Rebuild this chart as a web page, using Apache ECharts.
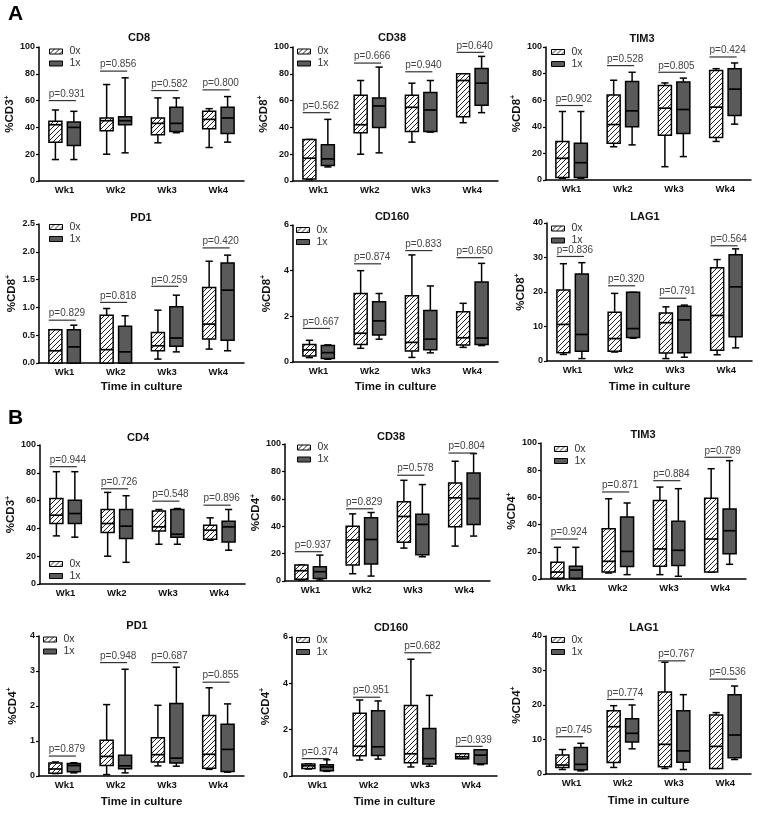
<!DOCTYPE html>
<html><head><meta charset="utf-8">
<script src="https://cdn.jsdelivr.net/npm/echarts@6/dist/echarts.min.js"></script>
<style>html,body{margin:0;padding:0;background:#fff}#c{width:762px;height:822px}</style>
</head><body><div id="c"></div>
<script>
// ---------- DATA ----------
const categories = ['Wk1', 'Wk2', 'Wk3', 'Wk4'];
const groupNames = ['0x', '1x'];
// each box: [min, Q1, median, Q3, max]

// Panel A - CD8
const A_CD8_0x = [[16,29,42,44.5,53],[20,37.5,45,47,72],[28.5,34.5,43,47,62],[25,39,46,52,54]];
const A_CD8_1x = [[16,26.5,40,44,52],[21,42,45,48,77],[36,37,43,55,62],[29,35.5,47,55,63]];
const A_CD8_p = ['p=0.931','p=0.856','p=0.582','p=0.800'];
const A_CD8_pY = [60,82,67.5,68];
const A_CD8_ticks = [0,20,40,60,80,100];

// Panel A - CD38
const A_CD38_0x = [[1,1.5,17,31,31],[20,36,42,64,75],[29,37,55,64,73],[43.5,48,75,80,80]];
const A_CD38_1x = [[10.5,11.5,16.5,27,46],[21,40,56,62,85],[36.5,37,53,66,75],[51,56.5,73,84,93]];
const A_CD38_p = ['p=0.562','p=0.666','p=0.940','p=0.640'];
const A_CD38_pY = [51,88,81.5,96];
const A_CD38_ticks = [0,20,40,60,80,100];

// Panel A - TIM3
const A_TIM3_0x = [[1.3,1.8,16.3,29,51.5],[25,27.6,41.7,64,75],[10,33.7,54,71,73],[29,32,54.8,82.4,83.7]];
const A_TIM3_1x = [[1.3,1.8,13,27.6,51.5],[26.4,40,52,74,81],[17.6,35,53,73.6,76.6],[42,48.5,68.3,83.7,88]];
const A_TIM3_p = ['p=0.902','p=0.528','p=0.805','p=0.424'];
const A_TIM3_pY = [56,86,81,92.5];
const A_TIM3_ticks = [0,20,40,60,80,100];

// Panel A - PD1
const A_PD1_0x = [[0,0,0.22,0.6,0.6],[0,0,0.24,0.86,0.98],[0.07,0.22,0.31,0.55,0.95],[0.25,0.43,0.70,1.36,1.83]];
const A_PD1_1x = [[0,0,0.29,0.6,0.68],[0,0,0.20,0.66,0.85],[0.20,0.30,0.45,1.01,1.22],[0.22,0.41,1.31,1.80,1.94]];
const A_PD1_p = ['p=0.829','p=0.818','p=0.259','p=0.420'];
const A_PD1_pY = [0.77,1.09,1.38,2.07];
const A_PD1_ticks = [0,0.5,1,1.5,2,2.5];

// Panel A - CD160
const A_CD160_0x = [[0.19,0.26,0.53,0.77,0.95],[0.6,0.77,1.26,3.0,4.0],[0.2,0.48,0.86,2.9,4.69],[0.64,0.74,1.06,2.2,2.57]];
const A_CD160_1x = [[0.12,0.15,0.41,0.72,0.75],[1.0,1.18,1.8,2.64,3.0],[0.4,0.54,1.0,2.26,3.33],[0.72,0.77,1.05,3.5,4.32]];
const A_CD160_p = ['p=0.667','p=0.874','p=0.833','p=0.650'];
const A_CD160_pY = [1.47,4.3,4.88,4.57];
const A_CD160_ticks = [0,2,4,6];

// Panel A - LAG1
const A_LAG1_0x = [[1.9,2.4,10.6,20.6,28.2],[2.6,2.8,6.5,14.1,19.6],[0.7,2.3,11.1,13.9,15.7],[1.8,3.1,13.2,27,29.4]];
const A_LAG1_1x = [[0.7,2.8,7.7,25.2,28.5],[6.6,6.8,9.4,19.9,19.9],[1.1,2.4,11.9,15.9,16.2],[3.8,7.0,21.5,30.8,32.5]];
const A_LAG1_p = ['p=0.836','p=0.320','p=0.791','p=0.564'];
const A_LAG1_pY = [30.3,21.8,18.2,33.4];
const A_LAG1_ticks = [0,10,20,30,40];

// Panel B - CD4
const B_CD4_0x = [[34.6,43.5,49.5,61.5,80.8],[20,37,43.5,53.6,65.9],[28.6,38.2,41.1,52.6,53.6],[31.5,32.2,38.7,42.3,47.6]];
const B_CD4_1x = [[33.7,43.5,50.7,60.3,80.8],[15.6,32.7,41.6,53.6,63.5],[28.6,33.7,35.8,53.6,54.3],[24.3,30.3,41.1,45.2,53.6]];
const B_CD4_p = ['p=0.944','p=0.726','p=0.548','p=0.896'];
const B_CD4_pY = [84.4,68.5,59.6,56.7];
const B_CD4_ticks = [0,20,40,60,80,100];

// Panel B - CD38
const B_CD38_0x = [[0.7,1.2,7.5,11.7,11.7],[5.3,11.7,29.9,40,49],[24,28.2,47.1,57.8,73.5],[25.5,39.6,60.7,71.6,87.4]];
const B_CD38_1x = [[0.7,1.9,6.8,10.4,18.9],[3.6,12.4,30.3,46.1,50],[17.7,19.2,41.3,48.8,70.4],[32.8,41.3,60.2,78.9,93]];
const B_CD38_p = ['p=0.937','p=0.829','p=0.578','p=0.804'];
const B_CD38_pY = [21.4,52.7,77.2,93.4];
const B_CD38_ticks = [0,20,40,60,80,100];

// Panel B - TIM3
const B_TIM3_0x = [[0.2,0.5,5.1,12.3,23.3],[4.4,5.1,13,37,59],[3.2,9.3,22.1,57.8,67.6],[5.1,5.1,29.4,59.3,81.1]];
const B_TIM3_1x = [[0.2,0.5,6.6,9.3,23.3],[3.2,9.1,20.3,45.6,55.9],[2,10,21.1,42.4,66.4],[10.8,18.6,35.5,51.5,87]];
const B_TIM3_p = ['p=0.924','p=0.871','p=0.884','p=0.789'];
const B_TIM3_pY = [29.4,64,72.3,89.5];
const B_TIM3_ticks = [0,20,40,60,80,100];

// Panel B - PD1
const B_PD1_0x = [[0.07,0.08,0.20,0.37,0.40],[0.04,0.30,0.56,1.02,2.04],[0.29,0.40,0.61,1.09,2.02],[0.19,0.22,0.62,1.73,2.52]];
const B_PD1_1x = [[0.09,0.12,0.30,0.36,0.38],[0.09,0.21,0.29,0.59,3.05],[0.28,0.37,0.51,2.07,3.11],[0.11,0.13,0.76,1.48,2.06]];
const B_PD1_p = ['p=0.879','p=0.948','p=0.687','p=0.855'];
const B_PD1_pY = [0.57,3.24,3.24,2.68];
const B_PD1_ticks = [0,1,2,3,4];

// Panel B - CD160
const B_CD160_0x = [[0.3,0.32,0.44,0.52,0.53],[0.69,0.87,1.28,2.71,3.28],[0.39,0.57,0.96,3.04,5.04],[0.75,0.75,0.83,0.96,0.96]];
const B_CD160_1x = [[0.2,0.23,0.39,0.49,0.70],[0.73,0.89,1.26,2.82,3.24],[0.42,0.52,0.75,2.05,3.48],[0.49,0.53,0.9,1.13,1.13]];
const B_CD160_p = ['p=0.374','p=0.951','p=0.682','p=0.939'];
const B_CD160_pY = [0.75,3.4,5.32,1.28];
const B_CD160_ticks = [0,2,4,6];

// Panel B - LAG1
const B_LAG1_0x = [[1.3,1.9,2.6,5.5,7.1],[1.9,3.3,13.7,18.3,19.8],[1.6,2.1,8.6,23.8,32.4],[1.6,1.6,8,17.1,17.8]];
const B_LAG1_1x = [[0.9,1.2,2.8,7.7,8.9],[7.3,9.3,11.8,16,20],[1.3,3.4,6.7,18.3,23],[4.2,4.7,11.3,23,25.5]];
const B_LAG1_p = ['p=0.745','p=0.774','p=0.767','p=0.536'];
const B_LAG1_pY = [10.8,21.6,32.8,27.5];
const B_LAG1_ticks = [0,10,20,30,40];

// ---------- LAYOUT ----------
const panels = [
  {title:'CD8', yName:'CD3', d0:A_CD8_0x, d1:A_CD8_1x, p:A_CD8_p, pY:A_CD8_pY, ticks:A_CD8_ticks,
   left:39, top:47, h:134, tx:139, ty:38, gap:17.5, lg:[49,46], xName:false, dec:0},
  {title:'CD38', yName:'CD8', d0:A_CD38_0x, d1:A_CD38_1x, p:A_CD38_p, pY:A_CD38_pY, ticks:A_CD38_ticks,
   left:293, top:47, h:134, tx:392, ty:37.5, gap:22, lg:[297,46], xName:false, dec:0},
  {title:'TIM3', yName:'CD8', d0:A_TIM3_0x, d1:A_TIM3_1x, p:A_TIM3_p, pY:A_TIM3_pY, ticks:A_TIM3_ticks,
   left:546, top:47, h:133, tx:642, ty:39, gap:22, lg:[551,46.5], xName:false, dec:0},
  {title:'PD1', yName:'CD8', d0:A_PD1_0x, d1:A_PD1_1x, p:A_PD1_p, pY:A_PD1_pY, ticks:A_PD1_ticks,
   left:39, top:224, h:139, tx:141, ty:218, gap:20, lg:[49,221.5], xName:true, nameGap:18, dec:1},
  {title:'CD160', yName:'CD8', d0:A_CD160_0x, d1:A_CD160_1x, p:A_CD160_p, pY:A_CD160_pY, ticks:A_CD160_ticks,
   left:293, top:225, h:137, tx:392, ty:217, gap:19.5, lg:[296,224.5], xName:true, nameGap:19, dec:0},
  {title:'LAG1', yName:'CD8', d0:A_LAG1_0x, d1:A_LAG1_1x, p:A_LAG1_p, pY:A_LAG1_pY, ticks:A_LAG1_ticks,
   left:547, top:223, h:138, tx:645, ty:217, gap:19.5, lg:[551,223], xName:true, nameGap:20, dec:0},
  {title:'CD4', yName:'CD3', d0:B_CD4_0x, d1:B_CD4_1x, p:B_CD4_p, pY:B_CD4_pY, ticks:B_CD4_ticks,
   left:40, top:445, h:139, tx:138, ty:438, gap:20.5, lg:[49,558.5], xName:false, dec:0},
  {title:'CD38', yName:'CD4', d0:B_CD38_0x, d1:B_CD38_1x, p:B_CD38_p, pY:B_CD38_pY, ticks:B_CD38_ticks,
   left:285, top:444, h:137, tx:391, ty:437, gap:19.5, lg:[297,442], xName:false, dec:0},
  {title:'TIM3', yName:'CD4', d0:B_TIM3_0x, d1:B_TIM3_1x, p:B_TIM3_p, pY:B_TIM3_pY, ticks:B_TIM3_ticks,
   left:541, top:443, h:136, tx:643, ty:435, gap:17.5, lg:[554,443.5], xName:false, dec:0},
  {title:'PD1', yName:'CD4', d0:B_PD1_0x, d1:B_PD1_1x, p:B_PD1_p, pY:B_PD1_pY, ticks:B_PD1_ticks,
   left:39, top:636, h:140, tx:137, ty:626, gap:19.5, lg:[43,634], xName:true, nameGap:19.5, dec:0},
  {title:'CD160', yName:'CD4', d0:B_CD160_0x, d1:B_CD160_1x, p:B_CD160_p, pY:B_CD160_pY, ticks:B_CD160_ticks,
   left:292, top:637, h:139, tx:391, ty:628, gap:19, lg:[296,634.5], xName:true, nameGap:19.5, dec:0},
  {title:'LAG1', yName:'CD4', d0:B_LAG1_0x, d1:B_LAG1_1x, p:B_LAG1_p, pY:B_LAG1_pY, ticks:B_LAG1_ticks,
   left:546, top:636, h:138, tx:644, ty:628, gap:22.5, lg:[551,634.5], xName:true, nameGap:21, dec:0}
];
const GRID_W = 205;
const FONT = 'Liberation Sans, Arial, sans-serif';

// hatch pattern
function makeHatch() {
  const s = 5;
  const cv = document.createElement('canvas');
  cv.width = s; cv.height = s;
  const ctx = cv.getContext('2d');
  ctx.fillStyle = '#fff'; ctx.fillRect(0, 0, s, s);
  ctx.strokeStyle = '#222'; ctx.lineWidth = 1;
  ctx.beginPath();
  ctx.moveTo(0, s); ctx.lineTo(s, 0);
  ctx.moveTo(-1, 1); ctx.lineTo(1, -1);
  ctx.moveTo(s - 1, s + 1); ctx.lineTo(s + 1, s - 1);
  ctx.stroke();
  return {image: cv, repeat: 'repeat'};
}
const hatch = makeHatch();
const DARK = '#5a5a5a';

function boxRender(offFrac, fill) {
  return function (params, api) {
    const cat = api.value(0);
    const bw = api.size([1, 0])[0];
    const cx = api.coord([cat, 0])[0] + offFrac * bw;
    const hw = bw * 0.127;
    const cap = bw * 0.07;
    const y = [1, 2, 3, 4, 5].map(i => api.coord([cat, api.value(i)])[1]);
    const ls = {stroke: '#000', lineWidth: 1.5};
    return {type: 'group', children: [
      {type: 'line', shape: {x1: cx, y1: y[4], x2: cx, y2: y[3]}, style: ls},
      {type: 'line', shape: {x1: cx, y1: y[1], x2: cx, y2: y[0]}, style: ls},
      {type: 'line', shape: {x1: cx - cap, y1: y[4], x2: cx + cap, y2: y[4]}, style: ls},
      {type: 'line', shape: {x1: cx - cap, y1: y[0], x2: cx + cap, y2: y[0]}, style: ls},
      {type: 'rect', shape: {x: cx - hw, y: y[3], width: 2 * hw, height: Math.max(0.5, y[1] - y[3])},
       style: {fill: fill, stroke: '#000', lineWidth: 1.5}},
      {type: 'line', shape: {x1: cx - hw, y1: y[2], x2: cx + hw, y2: y[2]}, style: {stroke: '#000', lineWidth: 1.7}}
    ]};
  };
}

function pRender(texts) {
  return function (params, api) {
    const cat = api.value(0);
    const bw = api.size([1, 0])[0];
    const c = api.coord([cat, api.value(1)]);
    const x1 = c[0] - bw * 0.31, x2 = c[0] + bw * 0.22;
    return {type: 'group', children: [
      {type: 'line', shape: {x1: x1, y1: c[1], x2: x2, y2: c[1]}, style: {stroke: '#333', lineWidth: 1.2}},
      {type: 'text', x: x1, y: c[1] - 1.5, style: {text: texts[params.dataIndex], fill: '#444',
        font: '10px ' + FONT, textAlign: 'left', textVerticalAlign: 'bottom'}}
    ]};
  };
}

const option = {
  animation: false,
  backgroundColor: '#fff',
  grid: [], xAxis: [], yAxis: [], series: [], legend: [],
  graphic: [
    {type: 'text', left: 8, top: 4, style: {text: 'A', font: 'bold 21px ' + FONT, fill: '#000'}},
    {type: 'text', left: 8, top: 408, style: {text: 'B', font: 'bold 21px ' + FONT, fill: '#000'}}
  ]
};

panels.forEach((pn, i) => {
  const t = pn.ticks;
  option.grid.push({left: pn.left, top: pn.top, width: GRID_W, height: pn.h, containLabel: false});
  option.xAxis.push({
    gridIndex: i, type: 'category', data: categories, boundaryGap: true,
    axisLine: {lineStyle: {color: '#000', width: 1.5}},
    axisTick: {alignWithLabel: true, length: 3, lineStyle: {color: '#000', width: 1.2}},
    axisLabel: {fontFamily: FONT, fontWeight: 'bold', fontSize: 9.5, color: '#111', margin: 4},
    name: pn.xName ? 'Time in culture' : '', nameLocation: 'middle', nameGap: pn.nameGap || 18,
    nameTextStyle: {fontFamily: FONT, fontWeight: 'bold', fontSize: 11.5, color: '#111'}
  });
  option.yAxis.push({
    gridIndex: i, type: 'value', min: t[0], max: t[t.length - 1], interval: t[1] - t[0],
    splitLine: {show: false},
    axisLine: {show: true, lineStyle: {color: '#000', width: 1.5}},
    axisTick: {show: true, length: 3, lineStyle: {color: '#000', width: 1.2}},
    axisLabel: {fontFamily: FONT, fontWeight: 'bold', fontSize: 9, color: '#111', margin: 4,
      formatter: v => v.toFixed(pn.dec)},
    name: '{a|%' + pn.yName + '}{b|+}', nameLocation: 'middle', nameRotate: 90, nameGap: pn.gap,
    nameTextStyle: {rich: {
      a: {fontFamily: FONT, fontWeight: 'bold', fontSize: 11.5, color: '#111', lineHeight: 14},
      b: {fontFamily: FONT, fontWeight: 'bold', fontSize: 7, color: '#111', verticalAlign: 'top', lineHeight: 8}
    }}
  });
  option.series.push({
    type: 'custom', name: '0x', xAxisIndex: i, yAxisIndex: i,
    itemStyle: {color: hatch},
    encode: {x: 0, y: [1, 2, 3, 4, 5]},
    data: pn.d0.map((b, k) => [k].concat(b)),
    renderItem: boxRender(-0.18, hatch)
  });
  option.series.push({
    type: 'custom', name: '1x', xAxisIndex: i, yAxisIndex: i,
    itemStyle: {color: DARK},
    encode: {x: 0, y: [1, 2, 3, 4, 5]},
    data: pn.d1.map((b, k) => [k].concat(b)),
    renderItem: boxRender(0.18, DARK)
  });
  option.series.push({
    type: 'custom', name: 'p' + i, xAxisIndex: i, yAxisIndex: i, silent: true,
    encode: {x: 0, y: 1},
    data: pn.pY.map((v, k) => [k, v]),
    renderItem: pRender(pn.p)
  });
  option.legend.push({
    left: pn.lg[0], top: pn.lg[1], orient: 'vertical', padding: 0, itemGap: 1,
    itemWidth: 13, itemHeight: 5, selectedMode: false, icon: 'rect',
    textStyle: {fontFamily: FONT, fontSize: 10.5, color: '#333', lineHeight: 10, padding: [0, 0, 0, 2]},
    data: [
      {name: groupNames[0], itemStyle: {color: hatch, borderColor: '#000', borderWidth: 1}},
      {name: groupNames[1], itemStyle: {color: DARK, borderColor: '#000', borderWidth: 1}}
    ]
  });
  option.graphic.push({type: 'text', x: pn.tx, y: pn.ty,
    style: {text: pn.title, font: 'bold 11px ' + FONT, fill: '#111', textAlign: 'center', textVerticalAlign: 'middle'}});
});

const chart = echarts.init(document.getElementById('c'), null, {renderer: 'canvas'});
chart.setOption(option);
</script>
</body></html>
